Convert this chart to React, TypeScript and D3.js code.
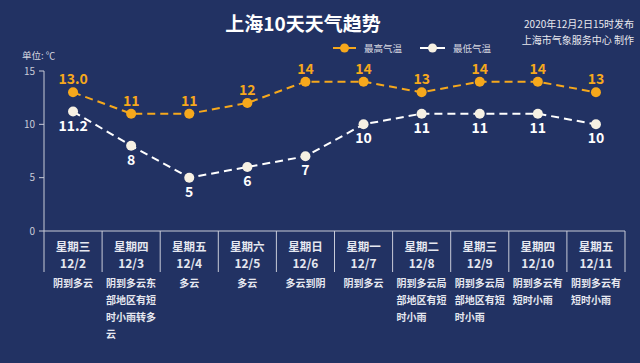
import React from "react";
import * as d3 from "d3";

const weekdays = ["星期三", "星期四", "星期五", "星期六", "星期日", "星期一", "星期二", "星期三", "星期四", "星期五"];
const dates = ["12/2", "12/3", "12/4", "12/5", "12/6", "12/7", "12/8", "12/9", "12/10", "12/11"];
const weather = [
  "阴到多云",
  "阴到多云东部地区有短时小雨转多云",
  "多云",
  "多云",
  "多云到阴",
  "阴到多云",
  "阴到多云局部地区有短时小雨",
  "阴到多云局部地区有短时小雨",
  "阴到多云有短时小雨",
  "阴到多云有短时小雨",
];
const highTemps = [13.0, 11, 11, 12, 14, 14, 13, 14, 14, 13];
const highLabels = ["13.0", "11", "11", "12", "14", "14", "13", "14", "14", "13"];
const lowTemps = [11.2, 8, 5, 6, 7, 10, 11, 11, 11, 10];
const lowLabels = ["11.2", "8", "5", "6", "7", "10", "11", "11", "11", "10"];
const yTicks = [0, 5, 10, 15];

const W = 640, H = 363;
const FONT = "'Noto Sans CJK SC', 'Noto Sans', sans-serif";
const BG = "#223263";
const ORANGE = "#F6A81C";
const WHITE = "#FFFFFF";
const CREAM = "#F7F1E3";

function chunk(s: string, n: number): string[] {
  const out: string[] = [];
  for (let i = 0; i < s.length; i += n) out.push(s.slice(i, i + n));
  return out;
}

export default function App() {
  const x = d3.scaleBand<number>().domain(d3.range(10)).range([44, 625]).padding(0);
  const y = d3.scaleLinear().domain([0, 15]).range([231, 71]);
  const cx = (i: number) => (x(i) as number) + x.bandwidth() / 2;
  const line = d3.line<number>().x((_, i) => cx(i)).y((d) => y(d));

  return (
    <svg width={W} height={H} style={{ position: "absolute", left: 0, top: 0, display: "block" }} fontFamily={FONT}>
      <rect x={0} y={0} width={W} height={H} fill={BG} />
      <text x={303} y={31} textAnchor="middle" fill="#fff" fontSize={19} fontWeight="bold">上海10天天气趋势</text>
      <text x={634} y={28} textAnchor="end" fill="#e8e8ee" fontSize={10}>2020年12月2日15时发布</text>
      <text x={634} y={44} textAnchor="end" fill="#e8e8ee" fontSize={10}>上海市气象服务中心 制作</text>

      {/* legend */}
      <g>
        <line x1={333} x2={356} y1={48} y2={48} stroke={ORANGE} strokeWidth={2} />
        <circle cx={344.5} cy={48} r={4.5} fill={ORANGE} />
        <text x={364} y={52} fill="#d8d8e0" fontSize={9.5}>最高气温</text>
        <line x1={420} x2={445} y1={48} y2={48} stroke={WHITE} strokeWidth={2} />
        <circle cx={432.5} cy={48} r={4.5} fill={CREAM} />
        <text x={453} y={52} fill="#d8d8e0" fontSize={9.5}>最低气温</text>
      </g>

      <text x={22} y={59} fill="#d8d8e0" fontSize={9.5}>单位: ℃</text>

      {/* y axis */}
      <line x1={44} x2={44} y1={71} y2={231} stroke="#c8cbd8" strokeWidth={1} />
      {yTicks.map((t) => (
        <g key={t}>
          <line x1={39} x2={44} y1={y(t)} y2={y(t)} stroke="#c8cbd8" />
          <text x={35} y={y(t) + 3.5} textAnchor="end" fill="#c8cbd8" fontSize={10}>{t}</text>
        </g>
      ))}

      {/* x axis */}
      <line x1={44} x2={625} y1={231} y2={231} stroke="#c8cbd8" strokeWidth={1} />
      {d3.range(11).map((i) => {
        const xx = i < 10 ? (x(i) as number) : 625;
        return <line key={i} x1={xx} x2={xx} y1={231} y2={272} stroke="#c8cbd8" strokeWidth={1} />;
      })}
      {weekdays.map((d, i) => (
        <g key={i}>
          <text x={cx(i)} y={251} textAnchor="middle" fill="#e6e8f0" fontSize={11.5} fontWeight="bold">{d}</text>
          <text x={cx(i)} y={268} textAnchor="middle" fill="#e6e8f0" fontSize={12} fontWeight="bold">{dates[i]}</text>
        </g>
      ))}
      {weather.map((w, i) => {
        const lines = chunk(w, 5);
        const left = (x(i) as number) + 4;
        return (
          <g key={i}>
            {lines.map((l, j) => (
              <text
                key={j}
                x={lines.length > 1 ? left : cx(i)}
                y={287 + j * 17}
                textAnchor={lines.length > 1 ? "start" : "middle"}
                fill="#e6e8f0"
                fontSize={10}
                fontWeight="bold"
              >{l}</text>
            ))}
          </g>
        );
      })}

      {/* lines */}
      <path d={line(lowTemps) || ""} fill="none" stroke={WHITE} strokeWidth={2} strokeDasharray="8,5" />
      <path d={line(highTemps) || ""} fill="none" stroke={ORANGE} strokeWidth={2} strokeDasharray="8,5" />
      {lowTemps.map((v, i) => (
        <circle key={i} cx={cx(i)} cy={y(v)} r={5} fill={CREAM} />
      ))}
      {highTemps.map((v, i) => (
        <circle key={i} cx={cx(i)} cy={y(v)} r={5} fill={ORANGE} />
      ))}
      {highTemps.map((v, i) => (
        <text key={i} x={cx(i)} y={y(v) - 8} textAnchor="middle" fill={ORANGE} fontSize={14} fontWeight="bold">{highLabels[i]}</text>
      ))}
      {lowTemps.map((v, i) => (
        <text key={i} x={cx(i)} y={y(v) + 19} textAnchor="middle" fill="#fff" fontSize={14} fontWeight="bold">{lowLabels[i]}</text>
      ))}
    </svg>
  );
}
